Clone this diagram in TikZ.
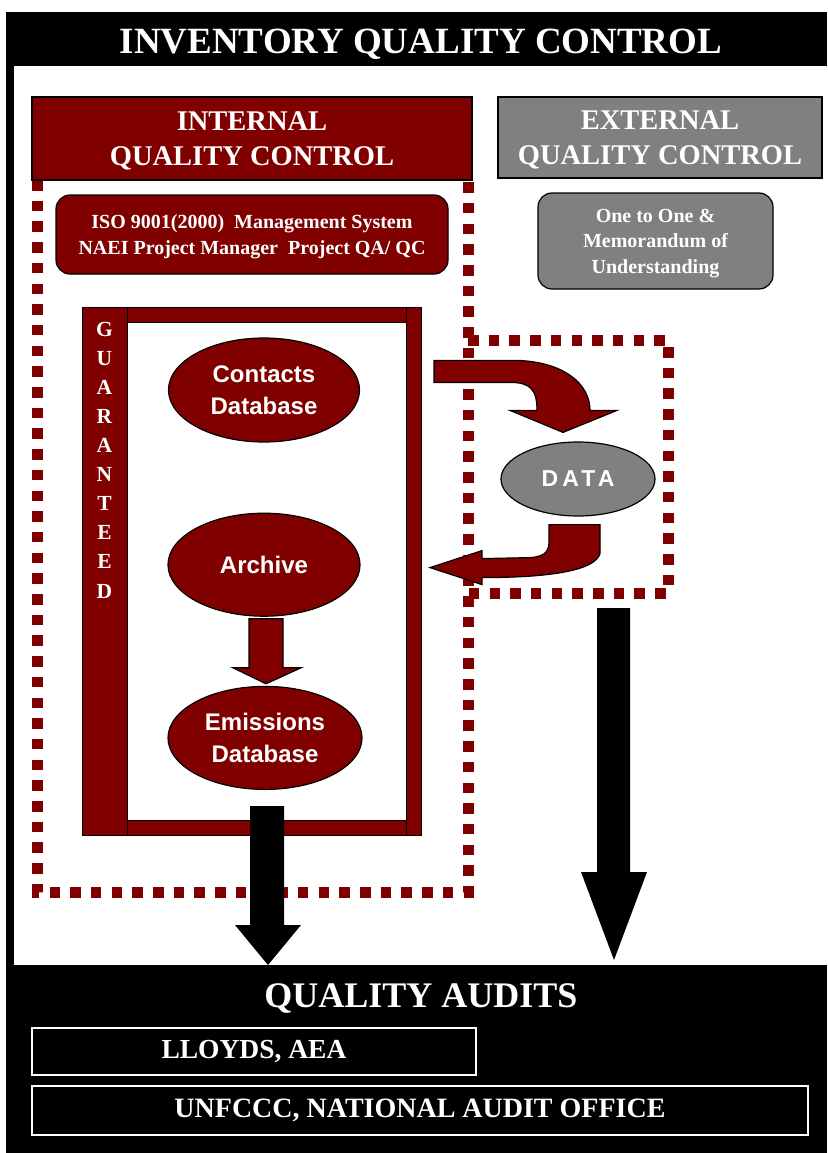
\documentclass[tikz,border=0pt]{standalone}
\usepackage{fontspec}
\setmainfont{Liberation Serif}
\setsansfont{Liberation Sans}
\usetikzlibrary{shapes.geometric}
\usetikzlibrary{calc, positioning}
\definecolor{qcred}{RGB}{128,0,0}
\definecolor{qcgrey}{RGB}{128,128,128}

\tikzset{
  headbox/.style={draw=black, line width=1.5pt, text=white, align=center, inner sep=0pt, text depth=0pt,
    font=\bfseries\fontsize{28.5}{35}\selectfont},
  softbox/.style={draw=black, line width=1.2pt, rounded corners=14pt, text=white, align=center, inner sep=0pt, text depth=0pt},
  blob/.style={ellipse, draw=black, line width=1.2pt, fill=qcred, text=white, align=center, inner sep=0pt, text depth=0pt,
    font=\sffamily\bfseries\fontsize{24}{32}\selectfont},
  dotline/.style={qcred, line width=11pt, dash pattern=on 10.5pt off 10.2pt},
  redarrow/.style={draw=black, line width=1.2pt, fill=qcred, line join=miter},
  auditbox/.style={draw=white, line width=1.5pt, text=white, inner sep=0pt},
}

\begin{document}
\begin{tikzpicture}[x=1pt, y=-1pt]
    \useasboundingbox (0,0) rectangle (827,1153);

    % frame
    \fill[black] (6,12) rectangle (827,1153);
    \fill[white] (14,66) rectangle (827,965);
    \node[text=white, text depth=0pt, font=\bfseries\fontsize{37}{40}\selectfont] (title) at (421,41) {INVENTORY QUALITY CONTROL};

    % dotted borders
    \draw[dotline] (37,180) -- (37,892) -- (468,892) -- (468,180);
    \draw[dotline] (468,340) -- (668,340) -- (668,593) -- (468,593);

    \node[headbox, fill=qcred, minimum width=440pt, minimum height=83pt] (internal) at (252,138.5) {INTERNAL\\QUALITY CONTROL};
    \node[headbox, fill=qcgrey, minimum width=324pt, minimum height=81pt] (external) at (660,137.5) {EXTERNAL\\QUALITY CONTROL};

    \node[softbox, fill=qcred, minimum width=392pt, minimum height=79pt, font=\bfseries\fontsize{20}{26}\selectfont] (iso) at (252,234.5) {ISO 9001(2000)\ \ Management System\\NAEI Project Manager\ \ Project QA/ QC};
    \node[softbox, fill=qcgrey, minimum width=235pt, minimum height=96pt, font=\bfseries\fontsize{20}{25.5}\selectfont] (memo) at (655.5,241) {One to One \&\\Memorandum of\\Understanding};

    % guaranteed frame
    \draw[fill=qcred] (82,307) rectangle (127,835);
    \draw[fill=qcred] (406,307) rectangle (421,835);
    \draw[fill=qcred] (127,307) rectangle (406,322);
    \draw[fill=qcred] (127,820) rectangle (406,835);
    \node[text=white, align=center, font=\bfseries\fontsize{21.5}{29.1}\selectfont] (guaranteed) at (104.5,460) {G\\U\\A\\R\\A\\N\\T\\E\\E\\D};

    \node[blob, minimum width=191pt, minimum height=104pt] (contacts) at (264,390) {Contacts\\Database};
    \node[blob, minimum width=192pt, minimum height=103pt, below=70pt of contacts] (archive) {Archive};
    \node[blob, minimum width=194pt, minimum height=103pt, below=69pt of archive, xshift=1pt] (emissions) {Emissions\\Database};
    \node[blob, fill=qcgrey, minimum width=154pt, minimum height=74pt, font=\sffamily\bfseries\fontsize{23}{26}\selectfont\addfontfeature{LetterSpace=18}] (data) at (578,479) {DATA};

    % red arrows
    \draw[redarrow, shift={(data.north)}] (-144,-81) -- (-60,-81) .. controls (-13,-79) and (12,-57) .. (12,-31) -- (39,-31) -- (-15,-9) -- (-68,-31) -- (-41,-31) .. controls (-41,-52) and (-48,-59) .. (-68,-59) -- (-144,-59) -- cycle;
    \draw[redarrow, shift={(data.south)}] (-29,8) -- (22,8) -- (22,37) .. controls (17,54) and (-28,61) .. (-96,61) -- (-96,68) -- (-148,51) -- (-96,34) -- (-96,42) -- (-48,41) .. controls (-32,40) and (-29,34) .. (-29,24) -- cycle;
    \draw[redarrow] ($(archive.south)+(-15,2)$) -- ($(archive.south)+(19,2)$) -- ($(emissions.north)+(18,-18)$) -- ($(emissions.north)+(36,-18)$) -- ($(emissions.north)+(1,-2)$) -- ($(emissions.north)+(-32,-18)$) -- ($(emissions.north)+(-16,-18)$) -- cycle;

    % black arrows
    \coordinate (leftdrop) at (268,965);
    \coordinate (rightdrop) at (614,960);
    \fill[black, shift={(leftdrop)}] (-18,-159) -- (16,-159) -- (16,-40) -- (33,-40) -- (0,0) -- (-33,-40) -- (-18,-40) -- cycle;
    \fill[black, shift={(rightdrop)}] (-17,-352) -- (16,-352) -- (16,-88) -- (33,-88) -- (0,0) -- (-33,-88) -- (-17,-88) -- cycle;

    % audits
    \node[text=white, text depth=0pt, font=\bfseries\fontsize{36}{40}\selectfont] (audits) at (421,996) {QUALITY AUDITS};
    \node[auditbox, minimum width=444pt, minimum height=47pt, font=\bfseries\fontsize{27.5}{30}\selectfont] (lloyds) at (254,1051.5) {LLOYDS, AEA};
    \node[auditbox, minimum width=776pt, minimum height=49pt, font=\bfseries\fontsize{28}{30}\selectfont] (unfccc) at (420,1110.5) {UNFCCC, NATIONAL AUDIT OFFICE};

\end{tikzpicture}
\end{document}
